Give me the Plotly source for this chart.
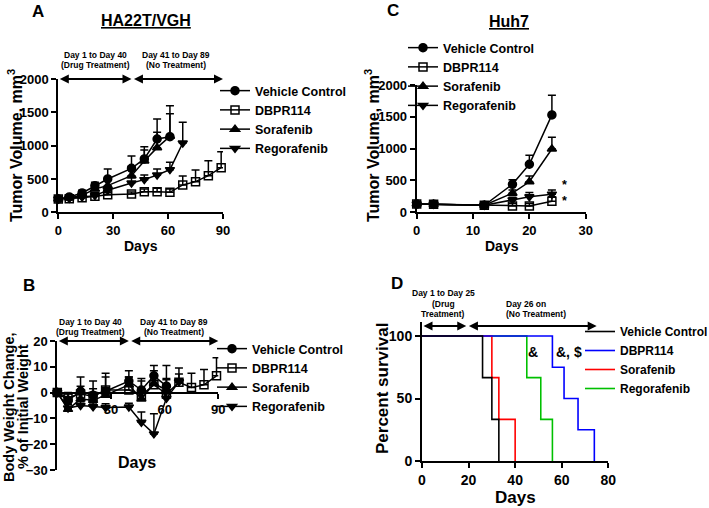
import plotly.graph_objects as go

W, H = 709, 508
FONT = "Liberation Sans, Arial, sans-serif"

# ---------------- Panel A: HA22T/VGH tumor volume ----------------
days_A = [0, 6, 13, 20, 27, 40, 47, 54, 61, 68, 75, 82, 89]
veh_A = [200, 230, 290, 400, 500, 660, 800, 1100, 1135]
veh_A_err = [20, 30, 40, 50, 150, 185, 185, 300, 465]
db_A = [200, 205, 220, 240, 265, 275, 310, 310, 300, 410, 460, 550, 670]
db_A_err = [15, 20, 25, 30, 30, 30, 40, 50, 50, 135, 175, 225, 240]
sor_A = [200, 215, 255, 350, 400, 550, 770, 970, 1140]
sor_A_err = [15, 20, 30, 40, 90, 140, 165, 230, 340]
reg_A = [200, 210, 230, 250, 330, 440, 490, 560, 640, 1040]
reg_A_err = [15, 20, 25, 30, 40, 80, 70, 90, 110, 310]

# ---------------- Panel B: body weight change ----------------
days_B = [0, 6, 13, 20, 27, 40, 47, 54, 61, 68, 75, 82, 89]
veh_B = [0, -3, 0.5, -1, 0.5, 4.5, 1, 6.5, 2.5]
veh_B_err = [1, 2.5, 5.5, 5.5, 7, 4, 4.5, 4, 8]
db_B = [0, -2, -0.5, -1.5, 1, 1, -1, 3, -0.5, 4, 2, 3, 6.5]
db_B_err = [1, 2, 3, 3, 5, 5, 5.5, 5.5, 6, 5.5, 5.5, 6, 7]
sor_B = [0, -6.5, -2.5, -3, -1, 3, -2.5, 3.5, 1]
sor_B_err = [1, 2, 3, 3, 3, 3, 3, 3.5, 4]
reg_B = [0, -6, -5, -5.5, -5.8, -5.6, -11.5, -16, -2.2, 4.2]
reg_B_err = [1, 2, 1.5, 1.5, 1.5, 1.5, 4, 7.8, 3, 3]

# ---------------- Panel C: Huh7 tumor volume ----------------
days_C = [0, 3, 12, 17, 20, 24]
veh_C = [130, 125, 110, 440, 755, 1530]
veh_C_err = [20, 15, 15, 70, 140, 310]
db_C = [130, 125, 110, 100, 100, 175]
db_C_err = [15, 15, 15, 40, 40, 70]
sor_C = [130, 125, 110, 300, 480, 995]
sor_C_err = [15, 15, 15, 50, 90, 185]
reg_C = [130, 125, 110, 195, 245, 285]
reg_C_err = [15, 15, 15, 40, 65, 65]

# ---------------- Panel D: survival ----------------
veh_D_t = [0, 26, 30, 33]
veh_D_s = [100, 66.67, 33.33, 0]
db_D_t = [0, 56, 61, 67, 74]
db_D_s = [100, 75, 50, 25, 0]
sor_D_t = [0, 30, 33, 40]
sor_D_s = [100, 66.67, 33.33, 0]
reg_D_t = [0, 45, 51, 56]
reg_D_s = [100, 66.67, 33.33, 0]

names = ["Vehicle Control", "DBPR114", "Sorafenib", "Regorafenib"]
symbols = ["circle", "square-open", "triangle-up", "triangle-down"]
surv_colors = ["#000000", "#0000ff", "#ff0000", "#00c000"]


def px(x):
    return x / W


def py(y):
    return 1 - y / H


fig = go.Figure()


def add_group(xa, ya, leg, days, series, errs):
    for name, sym, vals, err in zip(names, symbols, series, errs):
        n = len(vals)
        fig.add_trace(go.Scatter(
            x=days[:n], y=vals, name=name, mode="lines+markers",
            xaxis=xa, yaxis=ya, legend=leg, cliponaxis=False,
            line=dict(color="black", width=1.5),
            marker=dict(symbol=sym, size=8, color="black",
                        line=dict(color="black", width=1.5)),
            error_y=dict(type="data", symmetric=False, array=err,
                         arrayminus=[0] * n, thickness=1.5, width=4,
                         color="black"),
        ))


add_group("x", "y", "legend", days_A, [veh_A, db_A, sor_A, reg_A],
          [veh_A_err, db_A_err, sor_A_err, reg_A_err])
add_group("x3", "y3", "legend2", days_B, [veh_B, db_B, sor_B, reg_B],
          [veh_B_err, db_B_err, sor_B_err, reg_B_err])
add_group("x2", "y2", "legend3", days_C, [veh_C, db_C, sor_C, reg_C],
          [veh_C_err, db_C_err, sor_C_err, reg_C_err])

surv = [(veh_D_t, veh_D_s), (db_D_t, db_D_s), (sor_D_t, sor_D_s), (reg_D_t, reg_D_s)]
for i in reversed(range(4)):
    t, s = surv[i]
    fig.add_trace(go.Scatter(
        x=t, y=s, name=names[i], mode="lines", line_shape="hv",
        xaxis="x4", yaxis="y4", legend="legend4", cliponaxis=False,
        line=dict(color=surv_colors[i], width=1.6),
    ))

tickfont = dict(family=FONT, size=13, color="black", weight="bold")


def axis(domain, rng, tickvals, anchor, font=tickfont, **kw):
    d = dict(domain=domain, range=rng, tickvals=tickvals, anchor=anchor,
             showline=True, linecolor="black", linewidth=2, ticks="outside",
             ticklen=5, tickwidth=2, tickcolor="black", showgrid=False,
             zeroline=False, tickfont=font, fixedrange=True, automargin=False)
    d.update(kw)
    return d


tickfontD = dict(family=FONT, size=14, color="black", weight="bold")

layout = dict(
    width=W, height=H,
    margin=dict(l=0, r=0, t=0, b=0, pad=0, autoexpand=False),
    plot_bgcolor="white", paper_bgcolor="white",
    font=dict(family=FONT, color="black"),
    xaxis=axis([px(58.3), px(223)], [0, 90], [0, 30, 60, 90], "y"),
    yaxis=axis([py(212.3), py(79)], [0, 2000], [0, 500, 1000, 1500, 2000], "x"),
    xaxis2=axis([px(416.7), px(585.7)], [0, 30], [0, 10, 20, 30], "y2"),
    yaxis2=axis([py(212.3), py(85)], [0, 2000], [0, 500, 1000, 1500, 2000], "x2"),
    xaxis3=axis([px(57.3), px(218.3)], [0, 90], [30, 60, 90], "free",
                position=py(392.6)),
    yaxis3=axis([py(470), py(341)], [-30, 20], [-30, -20, -10, 0, 10, 20], "x3"),
    xaxis4=axis([px(422), px(608.3)], [0, 80], [0, 20, 40, 60, 80], "y4", font=tickfontD),
    yaxis4=axis([py(461), py(322)], [0, 111.2], [0, 50, 100], "x4", font=tickfontD),
    showlegend=True,
)

legfont = dict(family=FONT, size=12.5, color="black", weight="bold")
for key, x, ytop in [("legend", 255 - 40, 76), ("legend2", 252 - 40, 334),
                     ("legend3", 443 - 40, 33)]:
    layout[key] = dict(x=px(x), y=py(ytop), xanchor="left", yanchor="top",
                       font=legfont, bgcolor="rgba(0,0,0,0)", borderwidth=0,
                       itemwidth=30, tracegroupgap=0)
layout["legend4"] = dict(x=px(620 - 40), y=py(317), xanchor="left", yanchor="top",
                         font=dict(family=FONT, size=12, color="black", weight="bold"),
                         bgcolor="rgba(0,0,0,0)", borderwidth=0, itemwidth=30,
                         traceorder="reversed")

fig.update_layout(**layout)

ann = []


def text(t, x, y, size, angle=0, xanchor="center"):
    ann.append(dict(text=t, x=px(x), y=py(y), xref="paper", yref="paper",
                    showarrow=False, textangle=angle, xanchor=xanchor,
                    yanchor="middle",
                    font=dict(family=FONT, size=size, color="black", weight="bold")))


# panel letters and titles
text("A", 38, 12, 17)
text("C", 393, 11, 17)
text("B", 29, 285, 17)
text("D", 397, 283, 17)
text("<u>HA22T/VGH</u>", 146, 20, 16)
text("<u>Huh7</u>", 509, 21, 16)

# axis titles
text("Tumor Volume, mm<sup>3</sup>", 15, 146, 16, angle=-90)
text("Tumor Volume, mm<sup>3</sup>", 372, 146, 16, angle=-90)
text("Body Weight Change,", 9, 407, 14.5, angle=-90)
text("% of Initial Weight", 23, 407, 14.5, angle=-90)
text("Percent survival", 382, 389, 17, angle=-90)
text("Days", 141, 246, 14)
text("Days", 502, 246, 14)
text("Days", 137, 462, 16)
text("Days", 515, 497, 17)

# treatment period labels
for cx, y1, l1, l2 in [(95, 55, "Day 1 to Day 40", "(Drug Treatment)"),
                       (176, 55, "Day 41 to Day 89", "(No Treatment)"),
                       (90, 322, "Day 1 to Day 40", "(Drug Treatment)"),
                       (174, 322, "Day 41 to Day 89", "(No Treatment)")]:
    text(l1, cx, y1, 8.5)
    text(l2, cx, y1 + 10, 8.5)
text("Day 1 to Day 25", 443, 293, 8.5)
text("(Drug", 443, 304, 8.5)
text("Treatment)", 443, 314, 8.5)
text("Day 26 on", 504, 304, 8.5, xanchor="left")
text("(No Treatment)", 504, 314, 8.5, xanchor="left")


def darrow(xr, yr, x0, x1, yv):
    ann.append(dict(text="", x=x1, y=yv, ax=x0, ay=yv, xref=xr, yref=yr,
                    axref=xr, ayref=yr, showarrow=True, arrowside="end+start",
                    arrowhead=2, startarrowhead=2, arrowsize=1, startarrowsize=1,
                    arrowwidth=1.8, arrowcolor="black", standoff=0, startstandoff=0))


darrow("x", "y", 0, 40, 2000)
darrow("x", "y", 40.5, 90, 2000)
darrow("x3", "y3", 0, 40, 20)
darrow("x3", "y3", 40.5, 90, 20)
darrow("x4", "y4", 0, 19, 108)
darrow("x4", "y4", 19.5, 75, 108)

# significance marks (two stacked asterisks next to the last time point)
ann.append(dict(text="*<br>*", x=26.2, y=300, xref="x2", yref="y2", showarrow=False,
                xanchor="center", yanchor="middle",
                font=dict(family=FONT, size=12.5, color="black", weight="bold")))
for xv, t in [(47.7, "&"), (63.2, "&, $")]:
    ann.append(dict(text=t, x=xv, y=87, xref="x4", yref="y4", showarrow=False,
                    xanchor="center", yanchor="middle",
                    font=dict(family=FONT, size=14, color="black", weight="bold")))

fig.update_layout(annotations=ann)
fig.write_html("out.html", config={"displayModeBar": False},
               post_script="document.body.style.margin='0';")
